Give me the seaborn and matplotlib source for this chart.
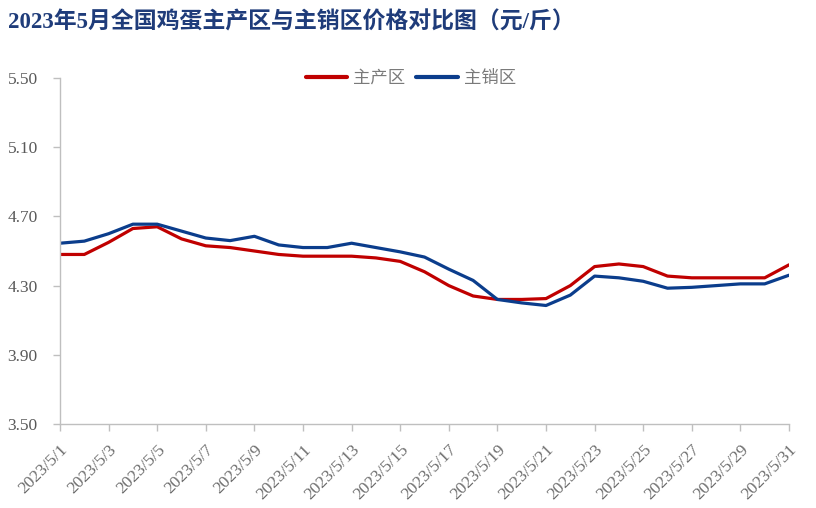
import matplotlib
matplotlib.use("Agg")
import matplotlib.pyplot as plt
import seaborn as sns
import pandas as pd
import numpy as np

days = [f"2023/5/{d}" for d in range(1, 32)]
producing = [4.48, 4.48, 4.55, 4.63, 4.64, 4.57, 4.53, 4.52, 4.50, 4.48,
             4.47, 4.47, 4.47, 4.46, 4.44, 4.38, 4.30, 4.24, 4.22, 4.22,
             4.225, 4.30, 4.41, 4.425, 4.41, 4.355, 4.345, 4.345, 4.345, 4.345, 4.42]
selling = [4.545, 4.557, 4.60, 4.655, 4.655, 4.615, 4.575, 4.56, 4.585, 4.535,
           4.52, 4.52, 4.545, 4.52, 4.495, 4.465, 4.395, 4.33, 4.22, 4.20,
           4.185, 4.245, 4.355, 4.345, 4.325, 4.285, 4.29, 4.30, 4.31, 4.31, 4.36]
series_names = ["主产区", "主销区"]
yticks = [3.50, 3.90, 4.30, 4.70, 5.10, 5.50]

sns.set_theme(style="white")
plt.rcParams['font.family'] = ['Liberation Serif', 'Noto Sans CJK SC']

df = pd.DataFrame({
    "idx": list(range(len(days))) * 2,
    "price": producing + selling,
    "series": [series_names[0]] * len(days) + [series_names[1]] * len(days),
})

fig = plt.figure(figsize=(8.16, 5.08), dpi=100)
ax = fig.add_axes([60/816, (508-424)/508, (789-60)/816, (424-78)/508])
sns.lineplot(data=df, x="idx", y="price", hue="series",
             palette={"主产区": "#C00000", "主销区": "#0B3D8C"},
             linewidth=2.3, ax=ax)

ax.set_xlim(0, len(days) - 1)
ax.set_ylim(3.50, 5.50)
ax.set_yticks(yticks)
ax.set_yticklabels([f"{v:.2f}" for v in yticks], color="#595959", fontsize=12.5,
                   family=['Liberation Serif'])
xt = list(range(0, len(days), 2))
ax.set_xticks(xt)
ax.set_xticklabels([days[i] for i in xt], rotation=45, ha="right", rotation_mode="anchor",
                   color="#6E6E6E", fontsize=12.5, family=['Liberation Serif'])
ax.set_xlabel("")
ax.set_ylabel("")
for s in ["top", "right"]:
    ax.spines[s].set_visible(False)
for s in ["left", "bottom"]:
    ax.spines[s].set_color("#BFBFBF")
    ax.spines[s].set_linewidth(1.0)
ax.tick_params(axis="both", which="both", length=5, color="#BFBFBF", width=1,
               direction="out", left=True, bottom=True)
ax.tick_params(axis="y", pad=11)
ax.tick_params(axis="x", pad=8)

leg = ax.legend(loc="center", bbox_to_anchor=(0.481, 1.0), ncol=2, frameon=False,
                handlelength=2.4, columnspacing=0.6, handletextpad=0.35,
                prop={'family': ['Noto Sans CJK SC'], 'size': 12.5})
for t in leg.get_texts():
    t.set_color("#7A7A7A")
for line in leg.get_lines():
    line.set_linewidth(3)

fig.text(8/816, 1 - 22/508, "2023年5月全国鸡蛋主产区与主销区价格对比图（元/斤）",
         fontsize=16.5, fontweight="bold", color="#1F3C7A", va="center", ha="left",
         family=['Liberation Serif', 'Noto Sans CJK SC'])

fig.savefig("out.png", dpi=100)
